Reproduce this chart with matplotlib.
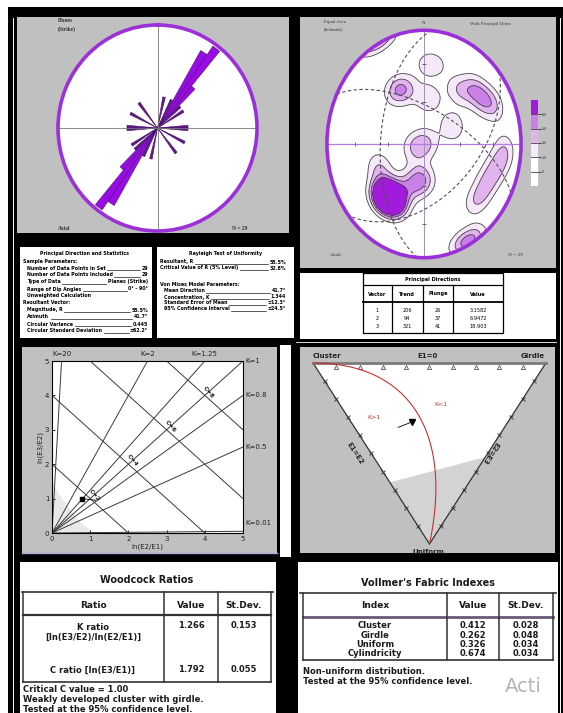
import numpy as np
import matplotlib
matplotlib.use("Agg")
import matplotlib.pyplot as plt
from matplotlib.patches import Rectangle, Polygon, Circle

W, H = 563, 713

# rose diagram: axial strike bins (5 degree classes) and counts
strike_bins = [12.5, 27.5, 32.5, 37.5, 42.5, 47.5, 57.5, 87.5, 92.5, 117.5, 142.5]
strike_counts = [1, 1, 8, 10, 3, 1, 1, 1, 1, 1, 1]

# poles used for the contoured stereonet (trend, plunge in degrees)
pole_trend = [6, 336, 330, 6, 38, 47, 57, 64, 62, 250, 70,
              246, 217, 217, 217, 217, 217, 225, 210, 222, 185, 190, 207,
              118, 106, 132, 95, 152, 152]
pole_plunge = [30, 47, 44, 57, 40, 29, 30, 22, 63, 82, 88,
               48, 40, 40, 40, 40, 40, 42, 38, 36, 65, 62, 53,
               28, 24, 27, 18, 4, 4]

# principal directions
eig_vector = ["1", "2", "3"]
eig_trend = [206, 94, 321]
eig_plunge = [26, 37, 41]
eig_value = ["3.1582", "6.9472", "18.903"]

# woodcock
k_lines = [20, 2, 1.25, 1, 0.8, 0.5, 0.01]
c_lines = [2, 4, 6, 8]
k_ratio, k_sd = 1.266, 0.153
c_ratio, c_sd = 1.792, 0.055

# vollmer
v_names = ["Cluster", "Girdle", "Uniform", "Cylindricity"]
v_values = [0.412, 0.262, 0.326, 0.674]
v_sd = [0.028, 0.048, 0.034, 0.034]

stats_left = [
    ("Sample Parameters:", "", 0),
    ("Number of Data Points in Set", "29", 1),
    ("Number of Data Points Included", "29", 1),
    ("Type of Data", "Planes (Strike)", 1),
    ("Range of Dip Angles", "0\u00b0 - 90\u00b0", 1),
    ("Unweighted Calculation", "", 1),
    ("Resultant Vector:", "", 0),
    ("Magnitude, R", "55.5%", 1),
    ("Azimuth", "41.7\u00b0", 1),
    ("Circular Variance", "0.445", 1),
    ("Circular Standard Deviation", "\u00b162.2\u00b0", 1),
]
stats_right = [
    ("Resultant, R", "55.5%", 0, 262),
    ("Critical Value of R (5% Level)", "32.8%", 0, 268),
    ("Von Mises Model Parameters:", "", 0, 284),
    ("Mean Direction", "41.7\u00b0", 1, 291),
    ("Concentration, K", "1.344", 1, 297),
    ("Standard Error of Mean", "\u00b112.3\u00b0", 1, 303),
    ("95% Confidence Interval", "\u00b124.5\u00b0", 1, 309),
]

GRAY = "#C0C0C0"
PURPLE = "#9B30D9"
SERIF = "Liberation Serif"

fig = plt.figure(figsize=(W / 100, H / 100), dpi=100)
fig.patch.set_facecolor("white")
renderer = fig.canvas.get_renderer()


def px_axes(x0, y0, x1, y1, **kw):
    return fig.add_axes([x0 / W, 1 - y1 / H, (x1 - x0) / W, (y1 - y0) / H], **kw)


bg = px_axes(0, 0, W, H)
bg.set_xlim(0, W)
bg.set_ylim(H, 0)
bg.axis("off")


def box(x0, y0, x1, y1, color):
    bg.add_patch(Rectangle((x0, y0), x1 - x0, y1 - y0, facecolor=color, edgecolor="none"))


# frame and panels
box(8, 7, W, H, "black")
bg.plot([13, 13], [18, H], color="white", lw=0.7)
bg.plot([560, 560], [18, H], color="white", lw=0.7)
box(17, 17, 289, 233, GRAY)
box(300, 17, 556, 268, GRAY)
box(22, 347, 277, 553, GRAY)
box(300, 347, 555, 553, GRAY)
box(20, 247, 152, 338, "white")
box(157, 247, 294, 338, "white")
box(300, 273, 556, 339, "white")
box(280, 345, 291, 557, "white")
bg.plot([296, 556], [342, 342], color="white", lw=0.6)
bg.plot([22, 277], [553, 553], color="#B8A8D8", lw=1.0)
box(20, 562, 276, H, "white")
box(298, 562, 558, H, "white")


def stat_row(x, y, label, value, x_end, size=3.4):
    t = bg.text(x, y, label, ha="left", va="center", fontsize=size, fontweight="bold")
    if not value:
        return
    v = bg.text(x_end, y, value, ha="right", va="center", fontsize=size, fontweight="bold")
    inv = bg.transData.inverted()
    xa = inv.transform(t.get_window_extent(renderer).get_points())[1, 0]
    xb = inv.transform(v.get_window_extent(renderer).get_points())[0, 0]
    bg.plot([xa + 1.5, xb - 1.5], [y + 2, y + 2], color="black", lw=0.45)


bg.text(85, 254, "Principal Direction and Statistics", ha="center", va="center",
        fontsize=3.4, fontweight="bold")
for i, (lab, val, ind) in enumerate(stats_left):
    stat_row(23 + 4 * ind, 261 + 7 * i, lab, val, 148)

bg.text(226, 254, "Rayleigh Test of Uniformity", ha="center", va="center",
        fontsize=3.4, fontweight="bold")
for lab, val, ind, y in stats_right:
    stat_row(160 + 4 * ind, y, lab, val, 286)

# principal directions table
tl = dict(color="black", lw=0.9)
bg.plot([363, 503, 503, 363, 363], [273, 273, 333, 333, 273], **tl)
bg.plot([363, 503], [285, 285], **tl)
bg.plot([363, 503], [302, 302], color="black", lw=1.3)
for xv in [392, 423, 453]:
    bg.plot([xv, xv], [285, 333], **tl)
bg.text(433, 279, "Principal Directions", ha="center", va="center", fontsize=3.6, fontweight="bold")
for xc, head in zip([377, 407, 438, 478], ["Vector", "Trend", "Plunge", "Value"]):
    bg.text(xc, 294, head, ha="center", va="center", fontsize=3.6, fontweight="bold")
for i in range(3):
    y = 310 + 8.5 * i
    for xc, val in zip([377, 407, 438, 478],
                       [eig_vector[i], str(eig_trend[i]), str(eig_plunge[i]), eig_value[i]]):
        bg.text(xc, y, val, ha="center", va="center", fontsize=3.6)

# ---- rose diagram
rose = px_axes(58, 25, 257, 231, projection="polar")
rose.set_theta_zero_location("N")
rose.set_theta_direction(-1)
theta = np.radians(np.concatenate([strike_bins, np.array(strike_bins) + 180]))
counts = np.tile(strike_counts, 2)
radius = np.sqrt(counts / max(strike_counts))
face = ["#9A0AE6" if c > 1 else "#5E1C82" for c in counts]
rose.bar(theta, radius, width=np.radians(5), color=face, edgecolor="#4B1070", lw=0.4)
rose.set_ylim(0, 1.03)
rose.set_yticks([])
rose.set_xticks(np.radians([0, 90, 180, 270]))
rose.set_xticklabels([])
rose.grid(True, color="#777777", lw=0.6)
rose.spines["polar"].set_color(PURPLE)
rose.spines["polar"].set_linewidth(2.6)
rose.set_aspect("auto")

bg.text(58, 21, "Planes", fontsize=4, family=SERIF, fontweight="bold", va="center", color="#333")
bg.text(58, 29, "(Strike)", fontsize=4, family=SERIF, fontweight="bold", va="center", color="#333")
bg.text(58, 229, "Axial", fontsize=4, family=SERIF, fontweight="bold", va="center", color="#333")
bg.text(232, 229, "N = 29", fontsize=4, family=SERIF, fontweight="bold", va="center", color="#333")


# ---- stereonet
def to_vec(trend, plunge):
    t, p = np.radians(trend), np.radians(plunge)
    return np.stack([np.cos(p) * np.sin(t), np.cos(p) * np.cos(t), -np.sin(p)], axis=-1)


def project(v):
    v = np.where(v[..., 2:3] > 0, -v, v)
    s = np.sqrt(1 - v[..., 2])
    return v[..., 0] / s, v[..., 1] / s


net = px_axes(325, 28, 523, 260)
net.set_xlim(-1.02, 1.02)
net.set_ylim(-1.02, 1.02)
net.axis("off")
net.add_patch(Circle((0, 0), 1, facecolor="white", edgecolor="none", zorder=0))

g = np.linspace(-1, 1, 281)
X, Y = np.meshgrid(g, g)
R2 = np.clip(X ** 2 + Y ** 2, 0, 1)
S = np.sqrt(2 - R2)
U = np.stack([X * S, Y * S, R2 - 1], axis=-1)
poles = to_vec(np.array(pole_trend), np.array(pole_plunge))
cosang = np.abs(U @ poles.T)
dens = 3.6 * np.exp(55 * (cosang - 1)).sum(axis=-1)

fill_levels = [2, 4, 6, 8, 1e3]
fill_colors = ["#F5E8F8", "#E2B4EF", "#CA80E8", "#A21ADB"]
clip = Circle((0, 0), 1, transform=net.transData)
cf = net.contourf(X, Y, dens, levels=fill_levels, colors=fill_colors, zorder=1)
cl = net.contour(X, Y, dens, levels=fill_levels[:-1], colors="#4A4A4A", linewidths=0.6, zorder=2)
cf.set_clip_path(clip)
cl.set_clip_path(clip)

net.plot([-1, 1], [0, 0], color="#B27CE0", lw=0.9, zorder=3)
net.plot([0, 0], [-1, 1], color="#A58FC0", lw=0.7, zorder=3)
ring = [-0.707, -0.366, 0.366, 0.707]
net.plot(ring, [0] * 4, ls="none", marker="|", ms=3, mew=0.6, color="#555", zorder=3)
net.plot([0] * 4, ring, ls="none", marker="_", ms=3, mew=0.6, color="#555", zorder=3)

tt = np.linspace(0, np.pi, 181)
for tr, pl in zip(eig_trend, eig_plunge):
    v = to_vec(tr, pl)
    a = np.cross(v, [0, 0, 1])
    a /= np.linalg.norm(a)
    b = np.cross(v, a)
    if b[2] > 0:
        b = -b
    pts = np.outer(np.cos(tt), a) + np.outer(np.sin(tt), b)
    gx, gy = project(pts)
    net.plot(gx, gy, ls=(0, (3, 2.2)), color="#505050", lw=0.8, zorder=4)

net.add_patch(Circle((0, 0), 1, fill=False, edgecolor=PURPLE, lw=2.6, zorder=5))

bg.text(324, 22, "Equal Area", fontsize=3.5, family=SERIF, va="center", color="#333")
bg.text(324, 29, "(Schmidt)", fontsize=3.5, family=SERIF, va="center", color="#333")
bg.text(424, 23, "N", fontsize=3.5, family=SERIF, ha="center", va="center", color="#333")
bg.text(470, 24, "With Principal Dirns", fontsize=3.5, family=SERIF, va="center", color="#333")
bg.text(330, 255, "Axial", fontsize=3.8, family=SERIF, va="center", color="#333")
bg.text(508, 255, "N = 29", fontsize=3.8, family=SERIF, va="center", color="#333")

cbar = px_axes(531, 100, 538, 186)
bar_colors = ["white", "white"] + fill_colors
for i, c in enumerate(bar_colors):
    cbar.bar(0.5, 1, width=1, bottom=i, color=c, edgecolor="none")
for i in range(1, 6):
    cbar.axhline(i, color="#444", lw=0.6)
cbar.set_xlim(0, 1)
cbar.set_ylim(0, 6)
cbar.set_xticks([])
cbar.set_yticks(range(1, 6))
cbar.set_yticklabels(["0", "2.0", "4.0", "6.0", "8.0"], fontsize=3, family=SERIF, color="#333")
cbar.yaxis.tick_right()
cbar.tick_params(axis="y", length=2, width=0.5, pad=1)
for sp in cbar.spines.values():
    sp.set_visible(False)

# ---- woodcock diagram
wd = px_axes(52, 361, 243, 533)
wd.set_xlim(0, 5)
wd.set_ylim(0, 5)
wd.add_patch(Polygon([(0, 0), (0, 1.5), (0.2, 1.1), (0.7, 0.35), (1.1, 0)],
                     facecolor="#E9E9E9", edgecolor="none"))
for k in k_lines:
    xe = min(5, 5 / k)
    wd.plot([0, xe], [0, k * xe], color="#3A3A3A", lw=0.7)
    if k > 1:
        wd.text(xe, 5.12, "K=%g" % k, ha="center", va="bottom", fontsize=5, color="#222", clip_on=False)
    else:
        wd.text(5.07, max(k * 5, 0.28), "K=%g" % k, ha="left", va="center", fontsize=5,
                color="#222", clip_on=False)
for c in c_lines:
    xs = np.array([max(0, c - 5), min(c, 5)])
    wd.plot(xs, c - xs, color="#3A3A3A", lw=0.7)
    wd.text(c / 2 + 0.1, c / 2 + 0.1, "C=%g" % c, ha="center", va="center", rotation=-50,
            fontsize=4.5, fontweight="bold", color="#222")
px = c_ratio / (1 + k_ratio)
wd.plot([px], [k_ratio * px], marker="s", ms=3.5, color="black")
wd.plot([px, px + 0.35], [k_ratio * px, k_ratio * px - 0.05], color="black", lw=0.6)
wd.set_xticks(range(6))
wd.set_yticks(range(6))
wd.tick_params(direction="in", length=2, width=0.6, labelsize=5, labelcolor="#222", pad=2)
for sp in wd.spines.values():
    sp.set_linewidth(0.8)
wd.set_xlabel("ln(E2/E1)", fontsize=5, color="#222", labelpad=1)
wd.set_ylabel("ln(E3/E2)", fontsize=5, color="#222", labelpad=1)

# ---- vollmer triangle
vt = px_axes(300, 347, 555, 553)
vt.set_xlim(-0.056, 1.039)
vt.set_ylim(-0.05, 1.088)
vt.axis("off")
CL, GI, UN = np.array([0, 1]), np.array([1, 1]), np.array([0.5, 0])
vt.add_patch(Polygon([CL, GI, UN], facecolor="white", edgecolor="none"))
vt.add_patch(Polygon([(0.33, 0.34), (0.74, 0.48), (0.5, 0)], facecolor="#D3D3D3", edgecolor="none"))
vt.plot([CL[0], UN[0], GI[0]], [CL[1], UN[1], GI[1]], color="#333", lw=0.9)
vt.plot([CL[0], GI[0]], [1, 1], color="#7A7A7A", lw=2)
s = np.arange(1, 10) / 10
vt.plot(s, np.full(9, 0.975), ls="none", marker="^", ms=3, mfc="none", mec="#555", mew=0.6)
for end in (CL, GI):
    pts = end + np.outer(s, UN - end)
    vt.plot(pts[:, 0], pts[:, 1], ls="none", marker="x", ms=2.2, mew=0.6, color="#333")

t = np.geomspace(1, 400, 300)
e1 = 1 / (1 + t + t ** 2)
e2, e3 = e1 * t, e1 * t ** 2
curve = np.outer(e3 - e2, CL) + np.outer(2 * (e2 - e1), GI) + np.outer(3 * e1, UN)
vt.plot(curve[:, 0], curve[:, 1], color="#C83030", lw=0.8)
pt = v_values[0] * CL + v_values[1] * GI + v_values[2] * UN
vt.plot([pt[0] - 0.06, pt[0]], [pt[1] - 0.03, pt[1]], color="black", lw=0.6)
vt.plot([pt[0]], [pt[1]], marker="v", ms=5, color="black")
vt.text(0.26, 0.7, "K>1", fontsize=4.5, color="#C83030", ha="center", va="center")
vt.text(0.55, 0.77, "K<1", fontsize=4.5, color="#C83030", ha="center", va="center")

bg.text(327, 356, "Cluster", fontsize=5, fontweight="bold", ha="center", va="center", color="#222")
bg.text(428, 356, "E1=0", fontsize=5, fontweight="bold", ha="center", va="center", color="#222")
bg.text(533, 356, "Girdle", fontsize=5, fontweight="bold", ha="center", va="center", color="#222")
bg.text(428, 552, "Uniform", fontsize=5, fontweight="bold", ha="center", va="center", color="#222")
bg.text(355, 453, "E1=E2", fontsize=5, fontweight="bold", ha="center", va="center", color="#222",
        rotation=-57)
bg.text(490, 453, "E2=E3", fontsize=5, fontweight="bold", ha="center", va="center", color="#222",
        rotation=237)

# ---- woodcock table
TF = dict(fontweight="bold", ha="center", va="center", color="#1A1A1A")
bg.text(147, 580, "Woodcock Ratios", fontsize=7, **TF)
bg.plot([22, 273], [592, 592], color="#333", lw=1.2)
bg.plot([23, 271], [615, 615], color="#333", lw=1.6)
bg.plot([23, 271], [682, 682], color="#333", lw=1.2)
for xv in [23, 164, 218, 271]:
    bg.plot([xv, xv], [592, 682], color="#333", lw=1.1)
bg.text(93, 606, "Ratio", fontsize=6.5, **TF)
bg.text(191, 606, "Value", fontsize=6.5, **TF)
bg.text(244, 606, "St.Dev.", fontsize=6.5, **TF)
bg.text(93, 627, "K ratio", fontsize=6, **TF)
bg.text(93, 637, "[ln(E3/E2)/ln(E2/E1)]", fontsize=6, **TF)
bg.text(191, 626, "%.3f" % k_ratio, fontsize=6, **TF)
bg.text(244, 626, "%.3f" % k_sd, fontsize=6, **TF)
bg.text(93, 670, "C ratio [ln(E3/E1)]", fontsize=6, **TF)
bg.text(191, 670, "%.3f" % c_ratio, fontsize=6, **TF)
bg.text(244, 670, "%.3f" % c_sd, fontsize=6, **TF)
LF = dict(fontweight="bold", ha="left", va="center", color="#1A1A1A", fontsize=6)
bg.text(23, 690, "Critical C value = 1.00", **LF)
bg.text(23, 700, "Weakly developed cluster with girdle.", **LF)
bg.text(23, 710, "Tested at the 95% confidence level.", **LF)

# ---- vollmer table
bg.text(428, 583, "Vollmer's Fabric Indexes", fontsize=7, **TF)
bg.plot([300, 556], [593, 593], color="#333", lw=1.2)
bg.plot([303, 553], [617, 617], color="#6A5A7A", lw=2.0)
bg.plot([303, 553], [660, 660], color="#333", lw=1.2)
for xv in [303, 447, 499, 553]:
    bg.plot([xv, xv], [593, 660], color="#333", lw=1.1)
bg.text(375, 606, "Index", fontsize=6.5, **TF)
bg.text(473, 606, "Value", fontsize=6.5, **TF)
bg.text(526, 606, "St.Dev.", fontsize=6.5, **TF)
for i, name in enumerate(v_names):
    y = 626 + 9.2 * i
    bg.text(375, y, name, fontsize=6, **TF)
    bg.text(473, y, "%.3f" % v_values[i], fontsize=6, **TF)
    bg.text(526, y, "%.3f" % v_sd[i], fontsize=6, **TF)
bg.text(303, 671, "Non-uniform distribution.", **LF)
bg.text(303, 681, "Tested at the 95% confidence level.", **LF)
bg.text(505, 686, "Acti", fontsize=14, color="#B4B4B4", ha="left", va="center")

fig.savefig("out.png", dpi=100, facecolor="white")
